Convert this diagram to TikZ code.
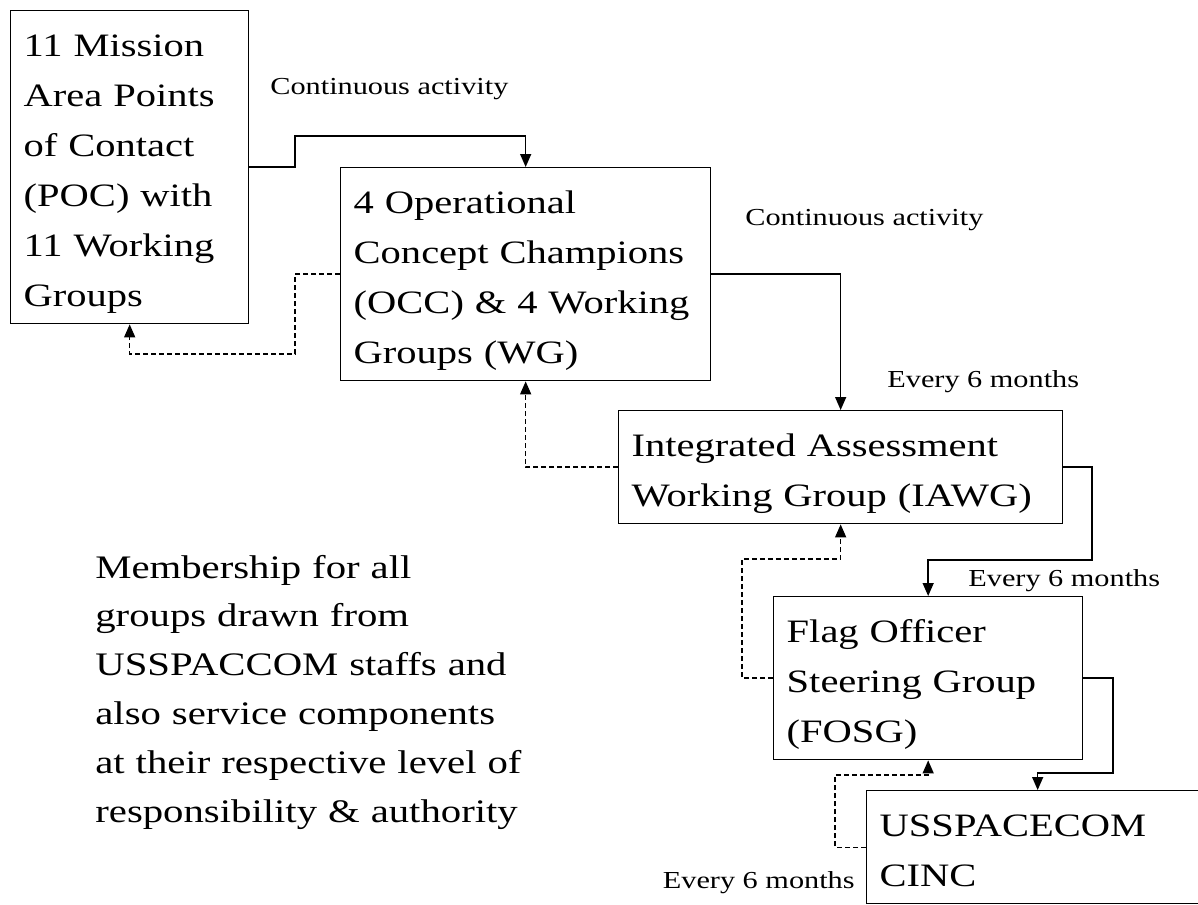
\documentclass[tikz,border=0pt]{standalone}
\usepackage{fontspec}
\setmainfont{Liberation Serif}
\newfontfamily\reportfont[FakeStretch=1.24]{Liberation Serif}
\usetikzlibrary{arrows.meta,positioning}

\begin{document}
\begin{tikzpicture}[
        x=0.02cm, y=-0.02cm,
        grpbox/.style={rectangle, draw, line width=0.8pt, anchor=north west, align=left,
                       inner xsep=0.26cm, inner ysep=0pt, text height=0.92cm,
                       font=\reportfont\fontsize{18.6pt}{1cm}\selectfont},
        freq/.style={anchor=base west, inner sep=0pt,
                     font=\reportfont\fontsize{13.9pt}{16pt}\selectfont},
        flow/.style={line width=0.8pt, -{Triangle[length=0.26cm, width=0.22cm]}},
        feedback/.style={flow, dash pattern=on 0.1cm off 0.06cm}
    ]
        \useasboundingbox[fill=white] (0,0) rectangle (1198,904);

        % Groups
        \node[grpbox, text width=4.24cm, text depth=5.34cm] (poc) at (10,10)
            {11 Mission\\Area Points\\of Contact\\(POC) with\\11 Working\\Groups};
        \node[grpbox, text width=6.88cm, text depth=3.34cm] (occ) at (340,167)
            {4 Operational\\Concept~Champions\\(OCC)~\&~4~Working\\Groups (WG)};
        \node[grpbox, text width=8.36cm, text depth=1.34cm] (iawg) at (618,410)
            {Integrated~Assessment\\Working~Group~(IAWG)};
        \node[grpbox, text width=5.66cm, text depth=2.34cm] (fosg) at (773,596)
            {Flag Officer\\Steering Group\\(FOSG)};
        \node[grpbox, text width=6.32cm, text depth=1.34cm] (cinc) at (866,790)
            {USSPACECOM\\CINC};

        % Meeting rates
        \node[freq] (cont1) at (270,94) {Continuous activity};
        \node[freq] (cont2) at (745,225) {Continuous activity};
        \node[freq] (six1) at (887,387) {Every 6 months};
        \node[freq] (six2) at (968,586) {Every 6 months};
        \node[freq, anchor=base east] (six3) at (855,888) {Every 6 months};

        % Membership note
        \node[anchor=base west, inner sep=0pt, align=left, text width=10cm,
              font=\reportfont\fontsize{18.7pt}{0.98cm}\selectfont] (member) at (95,578)
            {Membership for all\\groups drawn from\\USSPACCOM staffs and\\also service components\\at their respective level of\\responsibility \& authority};

        % Reporting upward
        \draw[flow] (poc.east) -| (295,136) -| (occ.north);
        \draw[flow] (occ.east) -| (iawg.north);
        \draw[flow] (iawg.east) -| (1092,560) -| (fosg.north);
        \draw[flow] (fosg.east) -| (1113,773) -| (cinc.north);

        % Guidance back down
        \draw[feedback] (occ.west) -| (295,354) -| (poc.south);
        \draw[feedback] (iawg.west) -| (occ.south);
        \draw[feedback] (fosg.west) -| (742,559) -| (iawg.south);
        \draw[feedback] (cinc.west) -| (835,775) -| (fosg.south);
    \end{tikzpicture}
\end{document}
